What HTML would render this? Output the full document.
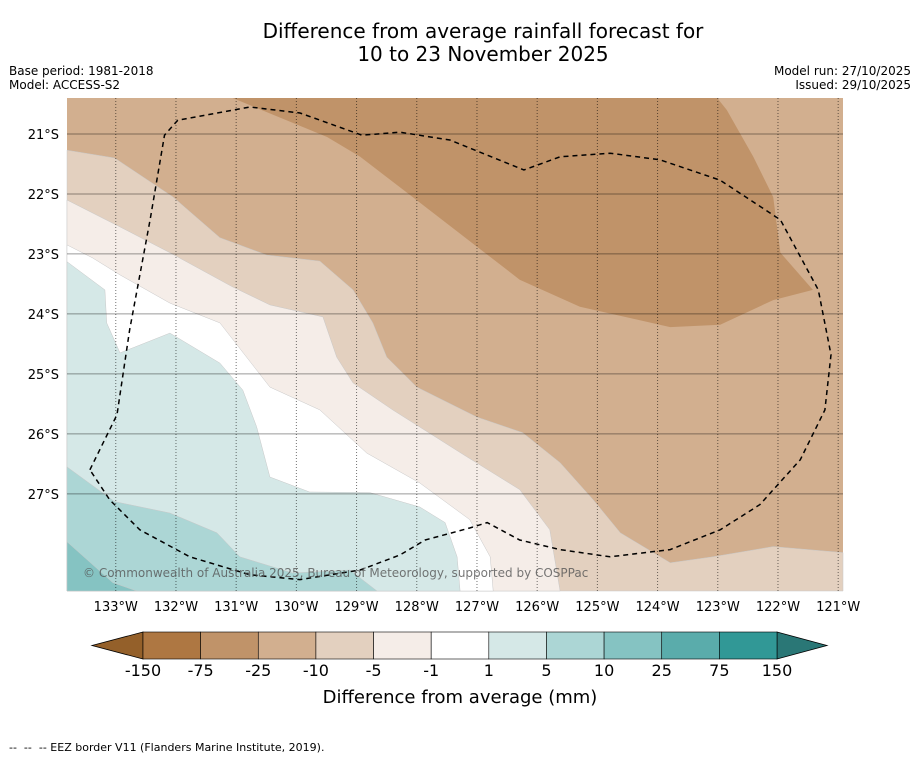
<!DOCTYPE html>
<html><head><meta charset="utf-8"><style>
body{margin:0;background:#fff;width:919px;height:758px;overflow:hidden;font-family:"Liberation Sans","DejaVu Sans",sans-serif}
svg text{font-family:"DejaVu Sans","Liberation Sans",sans-serif}
</style></head><body>
<svg id="c" width="919" height="758">
<text x="483" y="38" text-anchor="middle" font-size="20">Difference from average rainfall forecast for</text>
<text x="483" y="61" text-anchor="middle" font-size="20">10 to 23 November 2025</text>
<text x="9" y="75" font-size="12">Base period: 1981-2018</text>
<text x="9" y="89" font-size="12">Model: ACCESS-S2</text>
<text x="911" y="75" font-size="12" text-anchor="end">Model run: 27/10/2025</text>
<text x="911" y="89" font-size="12" text-anchor="end">Issued: 29/10/2025</text>
<g id="map"></g>
<g id="cbar"></g>
<text x="9" y="751" font-size="11">-- &#160;-- &#160;-- EEZ border V11 (Flanders Marine Institute, 2019).</text>
</svg>
<script>
const lonTicks=[-133,-132,-131,-130,-129,-128,-127,-126,-125,-124,-123,-122,-121];
const latTicks=[21,22,23,24,25,26,27];
const lonDomain=[-133.81,-120.92];
const latDomain=[20.4,28.62];
const baseColor="#d2af8f";
const bandColors=["#c09369","#e3d0bf","#f5ede8","#ffffff","#d5e8e7","#acd6d5","#85c3c2"];
const darkRegion=[[-131.06,20.40],[-129.49,21.05],[-128.94,21.38],[-128.16,21.98],[-127.00,22.88],[-126.29,23.43],[-125.29,23.88],[-123.79,24.22],[-122.96,24.18],[-122.08,23.77],[-121.42,23.60],[-121.96,22.98],[-122.08,22.05],[-122.41,21.38],[-122.85,20.60],[-123.01,20.40]];
const contourM10=[[-133.81,21.27],[-133.02,21.40],[-132.05,22.05],[-131.27,22.73],[-130.49,23.02],[-129.61,23.12],[-129.06,23.60],[-128.73,24.15],[-128.50,24.72],[-128.00,25.22],[-127.00,25.72],[-126.24,25.98],[-125.62,26.48],[-125.07,27.10],[-124.62,27.65],[-123.79,28.15],[-123.08,28.05],[-122.08,27.88],[-120.92,27.98]];
const contourM5=[[-133.81,22.10],[-132.93,22.55],[-132.10,22.98],[-131.06,23.55],[-130.44,23.85],[-129.56,24.05],[-129.33,24.72],[-129.06,25.15],[-128.40,25.60],[-127.17,26.38],[-126.29,26.93],[-125.79,27.60],[-125.62,28.62]];
const contourM1=[[-133.81,22.85],[-133.38,23.07],[-132.93,23.35],[-132.10,23.82],[-131.27,24.15],[-130.44,25.22],[-129.61,25.60],[-128.83,26.32],[-127.95,26.82],[-127.12,27.43],[-126.78,28.05],[-126.73,28.62]];
const contourP1=[[-133.81,23.13],[-133.18,23.60],[-133.15,24.15],[-132.93,24.65],[-132.10,24.32],[-131.27,24.82],[-130.89,25.27],[-130.66,25.88],[-130.44,26.72],[-129.78,26.97],[-128.78,26.98],[-127.95,27.22],[-127.53,27.48],[-127.33,28.05],[-127.28,28.62]];
const contourP5=[[-133.81,26.55],[-133.02,27.13],[-132.10,27.32],[-131.32,27.65],[-130.94,28.05],[-130.06,28.32],[-129.11,28.27],[-128.66,28.62]];
const contourP10=[[-133.81,27.80],[-133.05,28.48],[-132.65,28.62]];
const eez=[[-133.43,26.60],[-132.98,25.68],[-132.77,24.27],[-132.43,22.43],[-132.19,21.02],[-131.97,20.77],[-130.77,20.55],[-129.94,20.65],[-128.91,21.02],[-128.28,20.97],[-127.45,21.10],[-126.22,21.60],[-125.62,21.38],[-124.79,21.32],[-123.96,21.43],[-122.96,21.77],[-121.96,22.43],[-121.33,23.60],[-121.12,24.68],[-121.22,25.60],[-121.63,26.43],[-122.30,27.18],[-122.96,27.60],[-123.79,27.93],[-124.79,28.05],[-125.62,27.93],[-126.29,27.77],[-126.83,27.48],[-127.12,27.57],[-127.86,27.77],[-128.28,28.02],[-128.94,28.27],[-129.94,28.43],[-130.77,28.35],[-131.77,28.05],[-132.60,27.60],[-133.10,27.10],[-133.43,26.60]];
const cbLabels=["-150","-75","-25","-10","-5","-1","1","5","10","25","75","150"];
const cbColors=["#ae7742","#c09369","#d2af8f","#e3d0bf","#f5ede8","#ffffff","#d5e8e7","#acd6d5","#85c3c2","#5aacab","#319896"];
const cbEnds=["#94602a","#2a7776"];

const X0=67,X1=843,Y0=98,Y1=591;
const xs=lon=>X0+(lon-lonDomain[0])/(lonDomain[1]-lonDomain[0])*(X1-X0);
const ys=lat=>Y0+(lat-latDomain[0])/(latDomain[1]-latDomain[0])*(Y1-Y0);
const NS="http://www.w3.org/2000/svg";
function mk(tag,attrs,parent){const e=document.createElementNS(NS,tag);for(const k in attrs)e.setAttribute(k,attrs[k]);parent.appendChild(e);return e;}
const map=document.getElementById('map');
const pts=a=>a.map(p=>xs(p[0]).toFixed(1)+','+ys(p[1]).toFixed(1)).join(' ');
const bl=[lonDomain[0],latDomain[1]], br=[lonDomain[1],latDomain[1]];
let r=mk('rect',{x:X0,y:Y0,width:X1-X0,height:Y1-Y0,fill:baseColor},map);


let p=mk('polygon',{points:pts(darkRegion),fill:bandColors[0]},map);


const bands=[[contourM10,[br,bl],'band-minus10-to-minus5'],[contourM5,[bl],'band-minus5-to-minus1'],[contourM1,[bl],'band-minus1-to-1'],[contourP1,[bl],'band-1-to-5'],[contourP5,[bl],'band-5-to-10'],[contourP10,[bl],'band-10-to-25']];
bands.forEach((b,i)=>{
  const poly=mk('polygon',{points:pts(b[0].concat(b[1])),fill:bandColors[i+1],stroke:'#c8c8c8','stroke-width':0.5},map);
  
  
});
latTicks.forEach(l=>{
  const ln=mk('line',{x1:X0,x2:X1,y1:ys(l),y2:ys(l),stroke:'#000','stroke-opacity':0.4,'stroke-width':1},map);
  
  
  const t=mk('text',{x:59,y:ys(l)+5,'text-anchor':'end','font-size':13},map);t.textContent=l+'°S';
  
  
});
lonTicks.forEach(l=>{
  const ln=mk('line',{x1:xs(l),x2:xs(l),y1:Y0,y2:Y1,stroke:'#000','stroke-opacity':0.55,'stroke-width':1,'stroke-dasharray':'1,2'},map);
  
  
  const t=mk('text',{x:xs(l),y:611,'text-anchor':'middle','font-size':13},map);t.textContent=(-l)+'°W';
  
  
});
const ez=mk('polyline',{points:pts(eez),fill:'none',stroke:'#000','stroke-width':1.5,'stroke-dasharray':'5,4'},map);


const cp=mk('text',{x:83,y:577,'font-size':12,fill:'#555','fill-opacity':0.8},map);
cp.textContent='© Commonwealth of Australia 2025, Bureau of Meteorology, supported by COSPPac';



const cb=document.getElementById('cbar');
const C0=143,C1=777,CY=632,CH=27,w=(C1-C0)/cbColors.length;
let a1=mk('polygon',{points:`${C0},${CY} ${C0},${CY+CH} 92,${CY+CH/2}`,fill:cbEnds[0],stroke:'#000','stroke-width':0.8},cb);


let a2=mk('polygon',{points:`${C1},${CY} ${C1},${CY+CH} 827,${CY+CH/2}`,fill:cbEnds[1],stroke:'#000','stroke-width':0.8},cb);


cbColors.forEach((c,i)=>{
  const s=mk('rect',{x:C0+i*w,y:CY,width:w,height:CH,fill:c,stroke:'#000','stroke-width':0.6},cb);
  
  
});
cbLabels.forEach((l,i)=>{
  const t=mk('text',{x:C0+i*w,y:676,'text-anchor':'middle','font-size':16},cb);t.textContent=l;
  
  
});
const ct=mk('text',{x:460,y:703,'text-anchor':'middle','font-size':18},cb);ct.textContent='Difference from average (mm)';


</script>
</body></html>
